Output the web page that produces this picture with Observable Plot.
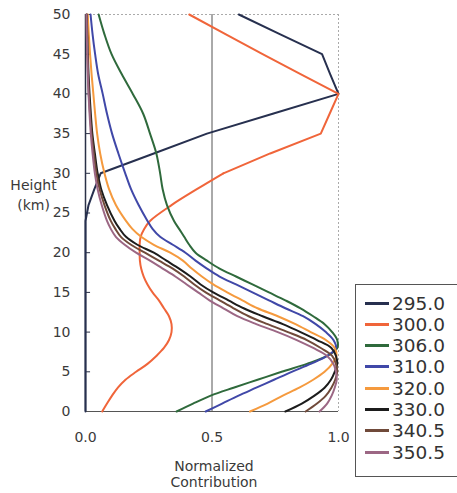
<!DOCTYPE html>
<html>
<head>
<meta charset="utf-8">
<script src="https://cdn.jsdelivr.net/npm/d3@7"></script>
<script src="https://cdn.jsdelivr.net/npm/@observablehq/plot@0.6"></script>
<style>
  body { margin: 0; background: #fff; }
  #wrap { position: relative; width: 457px; height: 493px; overflow: hidden; font-family: "DejaVu Sans", sans-serif; background: #fff; }
  #chart { position: absolute; left: 0; top: 0; }
  #legend { position: absolute; left: 355px; top: 284px; width: 130px; height: 193px; border: 1px solid #555; box-sizing: border-box; background: #fff; }
  .item { position: absolute; left: 9px; height: 22px; display: flex; align-items: center; font-size: 18.5px; color: #333; white-space: nowrap; }
  .sw { width: 24px; height: 3px; margin-right: 3px; }
</style>
</head>
<body>
<div id="wrap"><div id="chart"></div><div id="legend"></div></div>
<script>
// Heights (km)
const heights = [0,1,2,3,4,5,6,7,8,9,10,11,12,13,14,15,16,17,18,19,20,21,22,23,24,26,28,30,32.5,35,37.5,40,42.5,45,47.5,50];

// Series names (legend)
const series = ["295.0","300.0","306.0","310.0","320.0","330.0","340.5","350.5"];
const colors = ["#27304f","#f0653a","#2f6a3c","#4048a8","#f59a3e","#1c1c1c","#704a3a","#9c6784"];

// Normalized contribution per series, one value per height
const s295 = [0,0,0,0,0,0,0,0,0,0,0,0,0,0,0,0,0,0,0,0,0, 0,0,0,0,0.012,0.035,0.06, 0.27,0.48,0.74,1.0,0.967,0.935,0.77,0.606];
const s300 = [0.066,0.085,0.105,0.128,0.158,0.2,0.245,0.28,0.31,0.33,0.34,0.34,0.33,0.31,0.29,0.265,0.245,0.23,0.22,0.215,0.214, 0.214,0.218,0.232,0.255,0.34,0.44,0.545, 0.73,0.93,0.965,1.0,0.85,0.70,0.555,0.41];
const s306 = [0.36,0.425,0.495,0.585,0.68,0.775,0.875,0.955,0.995,0.995,0.975,0.945,0.9,0.85,0.79,0.725,0.66,0.595,0.53,0.48,0.435, 0.41,0.39,0.37,0.35,0.322,0.305,0.295, 0.28,0.255,0.228,0.187,0.143,0.103,0.075,0.052];
const s310 = [0.475,0.54,0.605,0.675,0.745,0.815,0.89,0.955,0.99,0.98,0.95,0.91,0.86,0.79,0.725,0.66,0.595,0.53,0.48,0.435,0.395, 0.345,0.295,0.265,0.245,0.21,0.18,0.157, 0.13,0.105,0.085,0.068,0.05,0.038,0.028,0.02];
const s320 = [0.65,0.72,0.78,0.845,0.9,0.945,0.975,0.992,0.985,0.95,0.89,0.83,0.76,0.68,0.62,0.56,0.505,0.46,0.42,0.385,0.335, 0.27,0.22,0.185,0.16,0.12,0.093,0.075, 0.058,0.046,0.038,0.031,0.024,0.018,0.013,0.009];
const s330 = [0.79,0.855,0.905,0.945,0.97,0.985,0.995,0.99,0.972,0.915,0.85,0.78,0.70,0.625,0.565,0.505,0.455,0.415,0.37,0.32,0.27, 0.205,0.16,0.135,0.115,0.085,0.062,0.048, 0.037,0.027,0.021,0.016,0.012,0.009,0.007,0.005];
const s340 = [0.87,0.915,0.95,0.972,0.987,0.995,0.99,0.975,0.93,0.875,0.80,0.72,0.645,0.585,0.53,0.475,0.43,0.39,0.345,0.29,0.235, 0.18,0.14,0.118,0.1,0.075,0.056,0.043, 0.033,0.024,0.018,0.013,0.01,0.008,0.006,0.004];
const s350 = [0.925,0.955,0.973,0.985,0.993,0.99,0.98,0.955,0.9,0.835,0.76,0.675,0.6,0.545,0.49,0.445,0.40,0.355,0.305,0.255,0.2, 0.155,0.12,0.1,0.085,0.064,0.048,0.037, 0.028,0.021,0.016,0.012,0.009,0.007,0.005,0.004];

// Axis ticks and labels
const xTicks = [0, 0.5, 1];
const yTicks = [0,5,10,15,20,25,30,35,40,45,50];
const xLabel = "Normalized\nContribution";
const yLabel = "Height\n(km)";

const values = [s295, s300, s306, s310, s320, s330, s340, s350];
const table = series.flatMap((s, i) => heights.map((h, j) => ({series: s, h, v: values[i][j]})));
const smoothSeries = ["306.0","310.0","320.0","330.0","340.5","350.5"];

const chart = Plot.plot({
  width: 457,
  height: 493,
  marginLeft: 85,
  marginRight: 119,
  marginTop: 14,
  marginBottom: 82,
  x: {domain: [0, 1]},
  y: {domain: [0, 50]},
  color: {domain: series, range: colors},
  style: {fontFamily: "DejaVu Sans", fontSize: "14px", color: "#3a3a3a", background: "transparent"},
  marks: [
    Plot.ruleY([50], {stroke: "#aaa", strokeDasharray: "2,2"}),
    Plot.ruleX([1], {stroke: "#aaa", strokeDasharray: "2,2"}),
    Plot.ruleX([0.5], {stroke: "#555", strokeWidth: 1}),
    Plot.ruleY(yTicks, {x1: 0, x2: 0.02, stroke: "#2a3147"}),
    Plot.ruleY([0], {stroke: "#555", strokeWidth: 1.2}),
    Plot.ruleX([0], {stroke: "#2a3147", strokeWidth: 1.5}),
    Plot.axisX({ticks: xTicks, tickSize: 0, tickPadding: 21, tickFormat: d3.format(".1f"), label: null}),
    Plot.axisY({ticks: yTicks, tickSize: 0, tickPadding: 15, label: null}),
    // 295.0: piecewise linear
    Plot.line(table.filter(d => d.series === "295.0"), {x: "v", y: "h", stroke: "series", strokeWidth: 2}),
    // 300.0: smooth below 30 km, straight segments above
    Plot.line(table.filter(d => d.series === "300.0" && d.h <= 30), {x: "v", y: "h", stroke: "series", strokeWidth: 2, curve: "catmull-rom"}),
    Plot.line(table.filter(d => d.series === "300.0" && d.h >= 30), {x: "v", y: "h", stroke: "series", strokeWidth: 2}),
    // smooth weighting functions
    Plot.line(table.filter(d => smoothSeries.includes(d.series)), {x: "v", y: "h", z: "series", stroke: "series", strokeWidth: 2, curve: "catmull-rom"}),
    Plot.text([yLabel], {frameAnchor: "left", lineAnchor: "middle", dx: -52, dy: -19, textAnchor: "middle", fontSize: 14, lineHeight: 1.43, fill: "#3a3a3a"}),
    Plot.text([xLabel], {frameAnchor: "bottom", lineAnchor: "middle", dx: 2, dy: 62, textAnchor: "middle", fontSize: 14, lineHeight: 1.19, fill: "#3a3a3a"})
  ]
});
document.getElementById("chart").appendChild(chart);

// Legend
const legend = document.getElementById("legend");
series.forEach((s, i) => {
  const item = document.createElement("div");
  item.className = "item";
  item.style.top = (7 + 21.3 * i) + "px";
  const sw = document.createElement("span");
  sw.className = "sw";
  sw.style.background = colors[i];
  const t = document.createElement("span");
  t.textContent = s;
  item.appendChild(sw);
  item.appendChild(t);
  legend.appendChild(item);
});
</script>
</body>
</html>
